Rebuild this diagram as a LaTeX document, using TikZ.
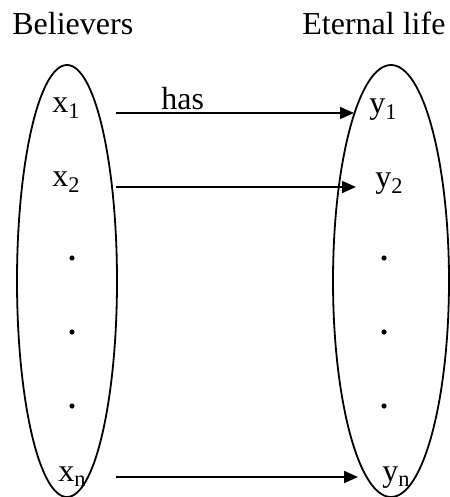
\documentclass[tikz,border=0pt]{standalone}
\usepackage{fontspec}
\setmainfont{Liberation Serif}
\usetikzlibrary{positioning,arrows.meta,shapes.geometric}

\begin{document}
\begin{tikzpicture}[
  x=0.5pt,y=-0.5pt,
  font=\fontsize{16}{19}\selectfont,
  setbox/.style={draw,ellipse,line width=0.9pt,inner sep=0pt},
  elem/.style={anchor=base west,inner sep=0pt},
  maparr/.style={-{Triangle[length=7pt,width=6pt]},line width=0.9pt},
  dotmark/.style={circle,fill,inner sep=0pt,minimum size=2.6pt}
]
\useasboundingbox (0,0) rectangle (449,497);

% ---- headings ----
\node[elem] (hX) at (12,35) {Believers};
\node[elem] (hY) at (302,35) {Eternal life};

% ---- the two sets ----
\node[setbox,minimum width=50pt,minimum height=216pt] (setX) at (67,281) {};
\node[setbox,minimum width=58pt,minimum height=216pt] (setY) at (391,281) {};

% ---- elements ----
\node[elem] (x1) at (52,113) {x\textsubscript{1}};
\node[elem] (x2) at (52,187) {x\textsubscript{2}};
\node[elem] (xn) at (58,481) {x\textsubscript{n}};
\node[elem] (y1) at (369,114) {y\textsubscript{1}};
\node[elem] (y2) at (375,188) {y\textsubscript{2}};
\node[elem] (yn) at (382,481) {y\textsubscript{n}};

\foreach \Y [count=\i] in {258,332,406}{
  \node[dotmark] (dx\i) at (72,\Y) {};
  \node[dotmark] (dy\i) at (384,\Y) {};
}

% ---- arrow ends ----
\coordinate (s1) at (116,113);
\coordinate (e1) at (354,113);
\coordinate (s2) at (116,187);
\coordinate (e2) at (356,187);
\coordinate (sn) at (116,477);
\coordinate (en) at (358,477);

% ---- mapping ----
\draw[maparr] (s1) -- node[pos=0.28,above,inner sep=1pt]{has} (e1);
\draw[maparr] (s2) -- (e2);
\draw[maparr] (sn) -- (en);

\end{tikzpicture}
\end{document}
